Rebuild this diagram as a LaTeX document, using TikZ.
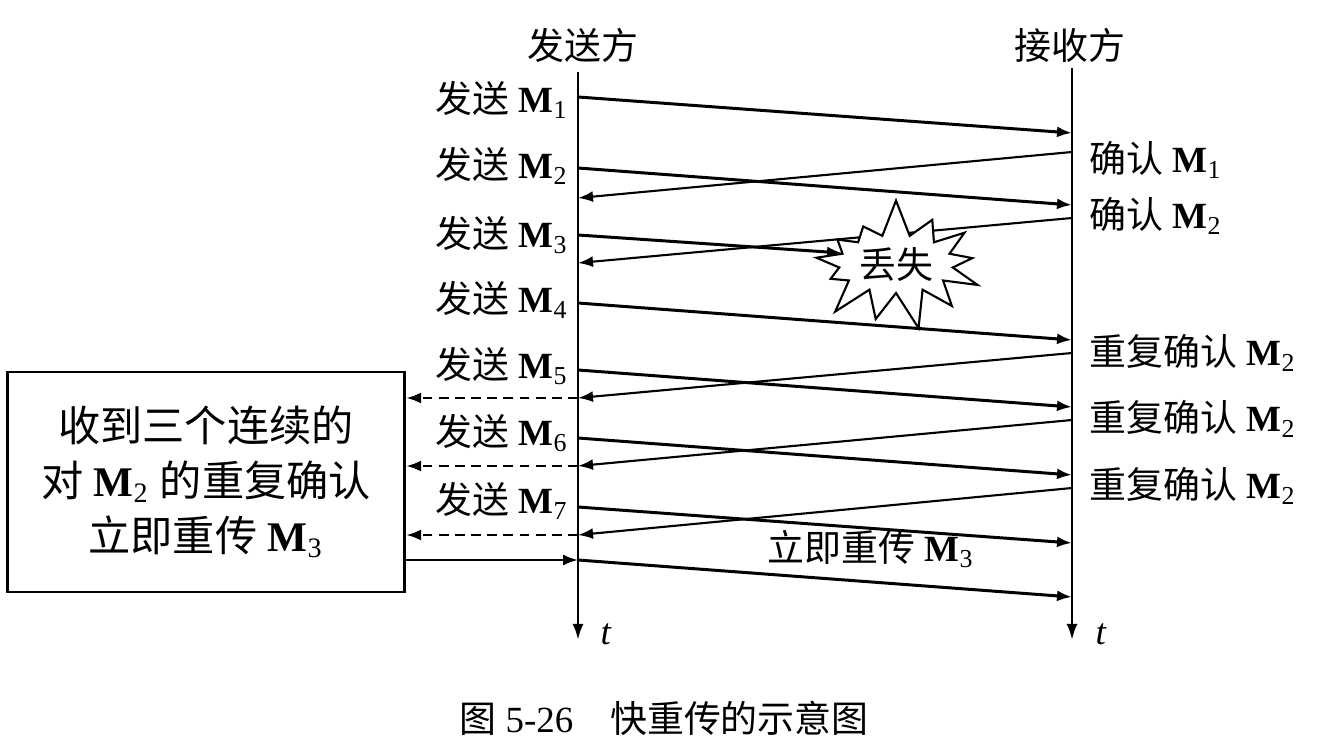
\documentclass[tikz,border=0pt]{standalone}
\usepackage{fontspec}
\setmainfont{Liberation Serif}
\newfontfamily\cjk{Noto Sans CJK SC}
\usetikzlibrary{arrows.meta, positioning, shapes.symbols}
\newcommand{\Mx}[1]{\textbf{M}\textsubscript{#1}}
\tikzset{
    lbl/.style={font=\fontsize{10.5}{12}\selectfont, inner sep=0pt},
    sendlbl/.style={lbl, anchor=east},
    recvlbl/.style={lbl, anchor=west},
    axis/.style={line width=0.8pt, -{Latex[length=1.6mm,width=1.1mm]}},
    msgarrow/.style={line width=0.85pt, -{Latex[length=1.5mm,width=1.1mm]}},
    ackarrow/.style={line width=0.6pt, -{Latex[length=1.5mm,width=1.1mm]}},
    dasharrow/.style={line width=0.8pt, dashed, dash pattern=on 2.8pt off 1.8pt, -{Latex[length=1.5mm,width=1.1mm]}},
}
\begin{document}
\begin{tikzpicture}[x=0.01cm,y=-0.01cm,
  boxnode/.style={draw, line width=0.8pt, minimum width=3.97cm, minimum height=2.2cm, align=center, font=\fontsize{12}{15.6}\selectfont},
  burst/.style={starburst, draw, fill=white, line width=0.6pt, minimum width=0.85cm, minimum height=1.0cm, starburst points=13, starburst point height=0.38cm, random starburst=7, inner sep=1pt, font=\fontsize{10.5}{12}\selectfont}
]
\useasboundingbox (0,0) rectangle (1328,752);

% time axes
\coordinate (sTop) at (578,72);
\coordinate (sBot) at (578,640);
\coordinate (rTop) at (1072,68);
\coordinate (rBot) at (1072,640);
\draw[axis] (sTop) -- (sBot);
\draw[axis] (rTop) -- (rBot);
\node[lbl] (sndr) at (583,45) {\cjk 发送方};
\node[lbl] (rcvr) at (1070,45) {\cjk 接收方};
\node[lbl] (sT) at (606,634) {\textit{t}};
\node[lbl] (rT) at (1101,634) {\textit{t}};

% data segments
\foreach \i/\ys/\yr in {1/97/133, 2/168/205, 4/303/340, 5/370/407, 6/438/475, 7/507/543}{
  \coordinate (s\i) at (578,\ys);
  \coordinate (r\i) at (1072,\yr);
  \draw[msgarrow] (s\i) -- (r\i);
}
\foreach \i/\ys in {1/100, 2/166, 3/235, 4/300, 5/366, 6/433, 7/501}{
  \node[sendlbl] (send\i) at (569,\ys) {{\cjk 发送} \Mx{\i}};
}

% acknowledgements
\foreach \i/\yr/\ys in {1/152/198, 2/218/263, 3/353/398, 4/420/466, 5/488/535}{
  \coordinate (ra\i) at (1072,\yr);
  \coordinate (sa\i) at (578,\ys);
  \draw[ackarrow] (ra\i) -- (sa\i);
}
\node[recvlbl] (ack1) at (1089,160) {{\cjk 确认} \Mx{1}};
\node[recvlbl] (ack2) at (1089,216) {{\cjk 确认} \Mx{2}};
\node[recvlbl] (dup1) at (1089,353) {{\cjk 重复确认} \Mx{2}};
\node[recvlbl] (dup2) at (1089,419) {{\cjk 重复确认} \Mx{2}};
\node[recvlbl] (dup3) at (1089,486) {{\cjk 重复确认} \Mx{2}};

% lost segment
\coordinate (s3) at (578,235);
\node[burst] (lost) at (896,264) {\cjk 丢失};
\coordinate (lostpt) at (842,253);
\draw[msgarrow] (s3) -- (lostpt);

% fast retransmit
\node[boxnode] (box) at (206,482) {{\cjk 收到三个连续的}\\{\cjk 对} \Mx{2} {\cjk 的重复确认}\\{\cjk 立即重传} \Mx{3}};
\foreach \i in {3,4,5}{
  \draw[dasharrow] (sa\i) -- (box.east |- sa\i);
}
\coordinate (sre) at (578,560);
\coordinate (rre) at (1072,597);
\draw[ackarrow] (box.east |- sre) -- (sre);
\draw[msgarrow] (sre) -- (rre);
\node[lbl] (relbl) at (871,549) {{\cjk 立即重传} \Mx{3}};

\node[lbl] (cap) at (664,718) {{\cjk 图} 5-26\quad {\cjk 快重传的示意图}};
\end{tikzpicture}
\end{document}
